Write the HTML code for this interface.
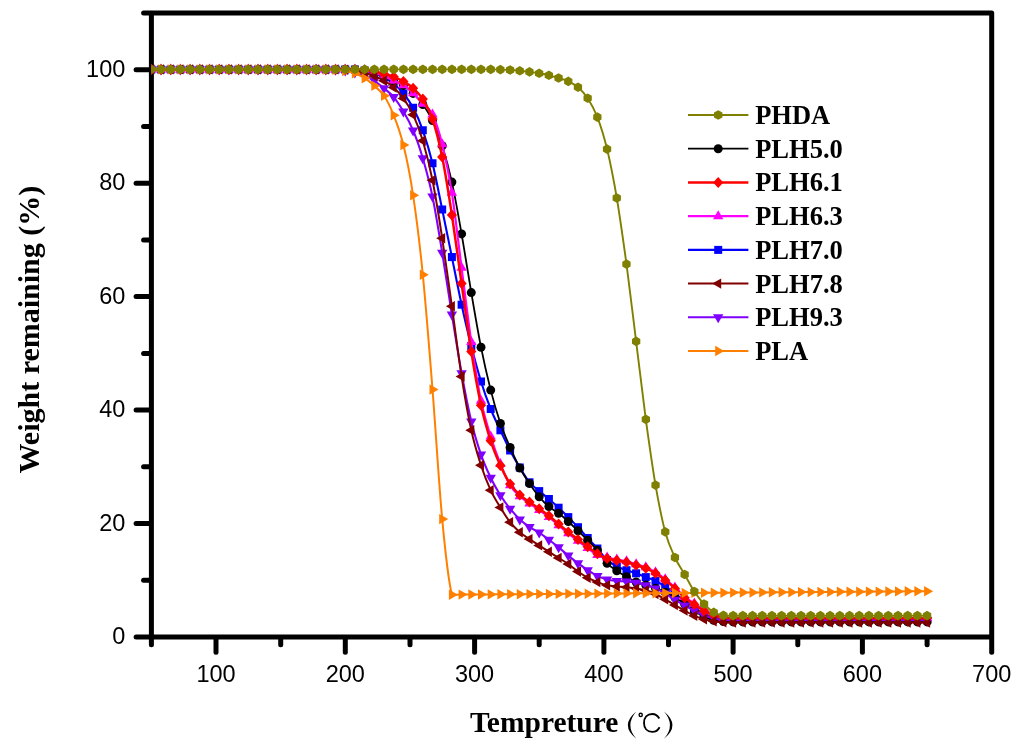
<!DOCTYPE html>
<html><head><meta charset="utf-8"><title>TGA</title>
<style>html,body{margin:0;padding:0;background:#fff;}svg{display:block;will-change:transform;}text{font-family:"Liberation Sans",sans-serif;}.t{font-family:"Liberation Serif",serif;font-weight:bold;}</style></head><body>
<svg width="1024" height="748" viewBox="0 0 1024 748">
<rect width="1024" height="748" fill="#fff"/>
<g stroke="#000" stroke-width="5" stroke-linecap="round" fill="none">
<path d="M151.4,12.9 H991.7 V637.0 H151.4 Z" stroke-linejoin="round" stroke-linecap="butt"/>
<line x1="151.4" y1="638.5" x2="151.4" y2="644.7"/>
<line x1="216" y1="638.5" x2="216" y2="652.2"/>
<line x1="280.7" y1="638.5" x2="280.7" y2="644.7"/>
<line x1="345.3" y1="638.5" x2="345.3" y2="652.2"/>
<line x1="410" y1="638.5" x2="410" y2="644.7"/>
<line x1="474.6" y1="638.5" x2="474.6" y2="652.2"/>
<line x1="539.2" y1="638.5" x2="539.2" y2="644.7"/>
<line x1="603.9" y1="638.5" x2="603.9" y2="652.2"/>
<line x1="668.5" y1="638.5" x2="668.5" y2="644.7"/>
<line x1="733.1" y1="638.5" x2="733.1" y2="652.2"/>
<line x1="797.8" y1="638.5" x2="797.8" y2="644.7"/>
<line x1="862.4" y1="638.5" x2="862.4" y2="652.2"/>
<line x1="927.1" y1="638.5" x2="927.1" y2="644.7"/>
<line x1="991.7" y1="638.5" x2="991.7" y2="652.2"/>
<line x1="149.9" y1="637" x2="136.1" y2="637"/>
<line x1="149.9" y1="580.3" x2="143.6" y2="580.3"/>
<line x1="149.9" y1="523.5" x2="136.1" y2="523.5"/>
<line x1="149.9" y1="466.8" x2="143.6" y2="466.8"/>
<line x1="149.9" y1="410.1" x2="136.1" y2="410.1"/>
<line x1="149.9" y1="353.4" x2="143.6" y2="353.4"/>
<line x1="149.9" y1="296.6" x2="136.1" y2="296.6"/>
<line x1="149.9" y1="239.9" x2="143.6" y2="239.9"/>
<line x1="149.9" y1="183.2" x2="136.1" y2="183.2"/>
<line x1="149.9" y1="126.4" x2="143.6" y2="126.4"/>
<line x1="149.9" y1="69.7" x2="136.1" y2="69.7"/>
<line x1="149.9" y1="13" x2="143.6" y2="13"/>
</g>
<defs><clipPath id="pa"><rect x="151.4" y="12.9" width="840.3000000000001" height="624.1"/></clipPath></defs>
<g clip-path="url(#pa)">
<g fill="#0000ff" stroke="none">
<path d="M151.3,69.4C152.9,69.4 157.8,69.4 161,69.4C164.2,69.4 167.5,69.4 170.7,69.4C173.9,69.4 177.2,69.4 180.4,69.4C183.6,69.4 186.9,69.4 190.1,69.4C193.3,69.4 196.6,69.4 199.8,69.4C203,69.4 206.2,69.4 209.5,69.4C212.7,69.4 215.9,69.4 219.2,69.4C222.4,69.4 225.6,69.4 228.9,69.4C232.1,69.4 235.3,69.4 238.6,69.4C241.8,69.4 245,69.4 248.3,69.4C251.5,69.4 254.7,69.4 258,69.4C261.2,69.4 264.4,69.4 267.7,69.4C270.9,69.4 274.1,69.4 277.4,69.4C280.6,69.4 283.8,69.4 287.1,69.4C290.3,69.4 293.5,69.4 296.8,69.4C300,69.4 303.2,69.4 306.5,69.4C309.7,69.4 312.9,69.4 316.1,69.4C319.4,69.4 322.6,69.4 325.8,69.4C329.1,69.4 332.3,69.4 335.5,69.4C338.8,69.4 342,69.4 345.2,69.4C348.5,69.4 351.7,69.4 354.9,69.6C358.2,69.8 361.4,70 364.6,70.6C367.9,71.2 371.1,71.8 374.3,73C377.6,74.2 380.8,75.7 384,77.5C387.3,79.3 390.5,81.1 393.7,83.8C397,86.5 400.2,89.5 403.4,93.5C406.7,97.5 409.9,101.7 413.1,107.8C416.4,113.9 419.6,121.1 422.8,130.3C426,139.6 429.3,150.1 432.5,163.3C435.7,176.5 439,193.9 442.2,209.5C445.4,225.1 448.7,241.2 451.9,257.1C455.1,273 458.4,289.9 461.6,304.7C464.8,319.5 468.1,333.2 471.3,346C474.5,358.8 477.8,371 481,381.5C484.2,392 487.5,400.9 490.7,409C493.9,417.1 497.2,423.4 500.4,430.3C503.6,437.2 506.9,444.3 510.1,450.5C513.3,456.7 516.6,462.2 519.8,467.5C523,472.8 526.3,478.4 529.5,482.3C532.7,486.2 535.9,488.3 539.2,491.1C542.4,493.9 545.6,496.2 548.9,499C552.1,501.8 555.3,504.7 558.6,507.7C561.8,510.7 565,513.9 568.3,517.1C571.5,520.4 574.7,523.7 578,527.2C581.2,530.7 584.4,534.5 587.7,538C590.9,541.5 594.1,544.8 597.4,548.5C600.6,552.2 603.8,557 607.1,560C610.3,563 613.5,564.7 616.8,566.4C620,568.1 623.2,569.1 626.5,570.2C629.7,571.4 632.9,572.1 636.1,573.3C639.4,574.4 642.6,575.8 645.8,577.1C649.1,578.4 652.3,579.3 655.5,580.9C658.8,582.5 662,584.4 665.2,586.5C668.5,588.6 671.7,591.1 674.9,593.5C678.2,595.9 681.4,598.6 684.6,601C687.9,603.4 691.1,605.9 694.3,608C697.6,610.1 700.8,612 704,613.6C707.3,615.2 710.5,616.7 713.7,617.6C717,618.5 720.2,618.9 723.4,619.2C726.7,619.5 729.9,619.5 733.1,619.5C736.4,619.5 739.6,619.5 742.8,619.5C746,619.5 749.3,619.5 752.5,619.5C755.7,619.5 759,619.5 762.2,619.5C765.4,619.5 768.7,619.5 771.9,619.5C775.1,619.5 778.4,619.5 781.6,619.5C784.8,619.5 788.1,619.5 791.3,619.5C794.5,619.5 797.8,619.5 801,619.5C804.2,619.5 807.5,619.5 810.7,619.5C813.9,619.5 817.2,619.5 820.4,619.5C823.6,619.5 826.9,619.5 830.1,619.5C833.3,619.5 836.6,619.5 839.8,619.5C843,619.5 846.3,619.5 849.5,619.5C852.7,619.5 855.9,619.5 859.2,619.5C862.4,619.5 865.6,619.5 868.9,619.5C872.1,619.5 875.3,619.5 878.6,619.5C881.8,619.5 885,619.5 888.3,619.5C891.5,619.5 894.7,619.5 898,619.5C901.2,619.5 904.4,619.5 907.7,619.5C910.9,619.5 914.1,619.5 917.4,619.5C920.6,619.5 925.4,619.5 927.1,619.5" fill="none" stroke="#0000ff" stroke-width="2.1" stroke-linejoin="round"/>
<polygon points="147.3,65.4 155.3,65.4 155.3,73.4 147.3,73.4"/>
<polygon points="157,65.4 165,65.4 165,73.4 157,73.4"/>
<polygon points="166.7,65.4 174.7,65.4 174.7,73.4 166.7,73.4"/>
<polygon points="176.4,65.4 184.4,65.4 184.4,73.4 176.4,73.4"/>
<polygon points="186.1,65.4 194.1,65.4 194.1,73.4 186.1,73.4"/>
<polygon points="195.8,65.4 203.8,65.4 203.8,73.4 195.8,73.4"/>
<polygon points="205.5,65.4 213.5,65.4 213.5,73.4 205.5,73.4"/>
<polygon points="215.2,65.4 223.2,65.4 223.2,73.4 215.2,73.4"/>
<polygon points="224.9,65.4 232.9,65.4 232.9,73.4 224.9,73.4"/>
<polygon points="234.6,65.4 242.6,65.4 242.6,73.4 234.6,73.4"/>
<polygon points="244.3,65.4 252.3,65.4 252.3,73.4 244.3,73.4"/>
<polygon points="254,65.4 262,65.4 262,73.4 254,73.4"/>
<polygon points="263.7,65.4 271.7,65.4 271.7,73.4 263.7,73.4"/>
<polygon points="273.4,65.4 281.4,65.4 281.4,73.4 273.4,73.4"/>
<polygon points="283.1,65.4 291.1,65.4 291.1,73.4 283.1,73.4"/>
<polygon points="292.8,65.4 300.8,65.4 300.8,73.4 292.8,73.4"/>
<polygon points="302.5,65.4 310.5,65.4 310.5,73.4 302.5,73.4"/>
<polygon points="312.1,65.4 320.1,65.4 320.1,73.4 312.1,73.4"/>
<polygon points="321.8,65.4 329.8,65.4 329.8,73.4 321.8,73.4"/>
<polygon points="331.5,65.4 339.5,65.4 339.5,73.4 331.5,73.4"/>
<polygon points="341.2,65.4 349.2,65.4 349.2,73.4 341.2,73.4"/>
<polygon points="350.9,65.6 358.9,65.6 358.9,73.6 350.9,73.6"/>
<polygon points="360.6,66.6 368.6,66.6 368.6,74.6 360.6,74.6"/>
<polygon points="370.3,69 378.3,69 378.3,77 370.3,77"/>
<polygon points="380,73.5 388,73.5 388,81.5 380,81.5"/>
<polygon points="389.7,79.8 397.7,79.8 397.7,87.8 389.7,87.8"/>
<polygon points="399.4,89.5 407.4,89.5 407.4,97.5 399.4,97.5"/>
<polygon points="409.1,103.8 417.1,103.8 417.1,111.8 409.1,111.8"/>
<polygon points="418.8,126.3 426.8,126.3 426.8,134.3 418.8,134.3"/>
<polygon points="428.5,159.3 436.5,159.3 436.5,167.3 428.5,167.3"/>
<polygon points="438.2,205.5 446.2,205.5 446.2,213.5 438.2,213.5"/>
<polygon points="447.9,253.1 455.9,253.1 455.9,261.1 447.9,261.1"/>
<polygon points="457.6,300.7 465.6,300.7 465.6,308.7 457.6,308.7"/>
<polygon points="467.3,342 475.3,342 475.3,350 467.3,350"/>
<polygon points="477,377.5 485,377.5 485,385.5 477,385.5"/>
<polygon points="486.7,405 494.7,405 494.7,413 486.7,413"/>
<polygon points="496.4,426.3 504.4,426.3 504.4,434.3 496.4,434.3"/>
<polygon points="506.1,446.5 514.1,446.5 514.1,454.5 506.1,454.5"/>
<polygon points="515.8,463.5 523.8,463.5 523.8,471.5 515.8,471.5"/>
<polygon points="525.5,478.3 533.5,478.3 533.5,486.3 525.5,486.3"/>
<polygon points="535.2,487.1 543.2,487.1 543.2,495.1 535.2,495.1"/>
<polygon points="544.9,495 552.9,495 552.9,503 544.9,503"/>
<polygon points="554.6,503.7 562.6,503.7 562.6,511.7 554.6,511.7"/>
<polygon points="564.3,513.1 572.3,513.1 572.3,521.1 564.3,521.1"/>
<polygon points="574,523.2 582,523.2 582,531.2 574,531.2"/>
<polygon points="583.7,534 591.7,534 591.7,542 583.7,542"/>
<polygon points="593.4,544.5 601.4,544.5 601.4,552.5 593.4,552.5"/>
<polygon points="603.1,556 611.1,556 611.1,564 603.1,564"/>
<polygon points="612.8,562.4 620.8,562.4 620.8,570.4 612.8,570.4"/>
<polygon points="622.5,566.2 630.5,566.2 630.5,574.2 622.5,574.2"/>
<polygon points="632.1,569.3 640.1,569.3 640.1,577.3 632.1,577.3"/>
<polygon points="641.8,573.1 649.8,573.1 649.8,581.1 641.8,581.1"/>
<polygon points="651.5,576.9 659.5,576.9 659.5,584.9 651.5,584.9"/>
<polygon points="661.2,582.5 669.2,582.5 669.2,590.5 661.2,590.5"/>
<polygon points="670.9,589.5 678.9,589.5 678.9,597.5 670.9,597.5"/>
<polygon points="680.6,597 688.6,597 688.6,605 680.6,605"/>
<polygon points="690.3,604 698.3,604 698.3,612 690.3,612"/>
<polygon points="700,609.6 708,609.6 708,617.6 700,617.6"/>
<polygon points="709.7,613.6 717.7,613.6 717.7,621.6 709.7,621.6"/>
<polygon points="719.4,615.2 727.4,615.2 727.4,623.2 719.4,623.2"/>
<polygon points="729.1,615.5 737.1,615.5 737.1,623.5 729.1,623.5"/>
<polygon points="738.8,615.5 746.8,615.5 746.8,623.5 738.8,623.5"/>
<polygon points="748.5,615.5 756.5,615.5 756.5,623.5 748.5,623.5"/>
<polygon points="758.2,615.5 766.2,615.5 766.2,623.5 758.2,623.5"/>
<polygon points="767.9,615.5 775.9,615.5 775.9,623.5 767.9,623.5"/>
<polygon points="777.6,615.5 785.6,615.5 785.6,623.5 777.6,623.5"/>
<polygon points="787.3,615.5 795.3,615.5 795.3,623.5 787.3,623.5"/>
<polygon points="797,615.5 805,615.5 805,623.5 797,623.5"/>
<polygon points="806.7,615.5 814.7,615.5 814.7,623.5 806.7,623.5"/>
<polygon points="816.4,615.5 824.4,615.5 824.4,623.5 816.4,623.5"/>
<polygon points="826.1,615.5 834.1,615.5 834.1,623.5 826.1,623.5"/>
<polygon points="835.8,615.5 843.8,615.5 843.8,623.5 835.8,623.5"/>
<polygon points="845.5,615.5 853.5,615.5 853.5,623.5 845.5,623.5"/>
<polygon points="855.2,615.5 863.2,615.5 863.2,623.5 855.2,623.5"/>
<polygon points="864.9,615.5 872.9,615.5 872.9,623.5 864.9,623.5"/>
<polygon points="874.6,615.5 882.6,615.5 882.6,623.5 874.6,623.5"/>
<polygon points="884.3,615.5 892.3,615.5 892.3,623.5 884.3,623.5"/>
<polygon points="894,615.5 902,615.5 902,623.5 894,623.5"/>
<polygon points="903.7,615.5 911.7,615.5 911.7,623.5 903.7,623.5"/>
<polygon points="913.4,615.5 921.4,615.5 921.4,623.5 913.4,623.5"/>
<polygon points="923.1,615.5 931.1,615.5 931.1,623.5 923.1,623.5"/>
</g>
<g fill="#000000" stroke="none">
<path d="M151.3,69.4C152.9,69.4 157.8,69.4 161,69.4C164.2,69.4 167.5,69.4 170.7,69.4C173.9,69.4 177.2,69.4 180.4,69.4C183.6,69.4 186.9,69.4 190.1,69.4C193.3,69.4 196.6,69.4 199.8,69.4C203,69.4 206.2,69.4 209.5,69.4C212.7,69.4 215.9,69.4 219.2,69.4C222.4,69.4 225.6,69.4 228.9,69.4C232.1,69.4 235.3,69.4 238.6,69.4C241.8,69.4 245,69.4 248.3,69.4C251.5,69.4 254.7,69.4 258,69.4C261.2,69.4 264.4,69.4 267.7,69.4C270.9,69.4 274.1,69.4 277.4,69.4C280.6,69.4 283.8,69.4 287.1,69.4C290.3,69.4 293.5,69.4 296.8,69.4C300,69.4 303.2,69.4 306.5,69.4C309.7,69.4 312.9,69.4 316.1,69.4C319.4,69.4 322.6,69.4 325.8,69.4C329.1,69.4 332.3,69.4 335.5,69.4C338.8,69.4 342,69.4 345.2,69.4C348.5,69.4 351.7,69.4 354.9,69.6C358.2,69.8 361.4,69.9 364.6,70.4C367.9,70.9 371.1,71.6 374.3,72.6C377.6,73.6 380.8,75 384,76.4C387.3,77.8 390.5,79.7 393.7,81.2C397,82.7 400.2,83.6 403.4,85.6C406.7,87.6 409.9,90.2 413.1,93.4C416.4,96.6 419.6,100 422.8,104.5C426,109 429.3,113.7 432.5,120.6C435.7,127.5 439,135.4 442.2,145.7C445.4,155.9 448.7,167.4 451.9,182.1C455.1,196.8 458.4,215.5 461.6,233.9C464.8,252.3 468.1,273.7 471.3,292.6C474.5,311.5 477.8,330.9 481,347.2C484.2,363.4 487.5,377.4 490.7,390.1C493.9,402.8 497.2,413.8 500.4,423.4C503.6,432.9 506.9,440 510.1,447.4C513.3,454.8 516.6,462 519.8,468C523,474 526.3,478.7 529.5,483.5C532.7,488.3 535.9,493 539.2,496.8C542.4,500.6 545.6,503.8 548.9,506.5C552.1,509.2 555.3,510.8 558.6,513.3C561.8,515.8 565,518.6 568.3,521.5C571.5,524.4 574.7,527.7 578,530.8C581.2,533.9 584.4,537 587.7,540.2C590.9,543.5 594.1,546.4 597.4,550.3C600.6,554.1 603.8,559.9 607.1,563.3C610.3,566.7 613.5,568.5 616.8,570.7C620,573 623.2,574.9 626.5,576.8C629.7,578.7 632.9,580.6 636.1,582C639.4,583.4 642.6,584 645.8,585C649.1,586 652.3,587 655.5,588.2C658.8,589.4 662,590.6 665.2,592.2C668.5,593.8 671.7,595.6 674.9,597.6C678.2,599.6 681.4,601.8 684.6,604C687.9,606.2 691.1,608.9 694.3,611C697.6,613.1 700.8,615.1 704,616.6C707.3,618.1 710.5,619.4 713.7,620.2C717,621 720.2,621.2 723.4,621.5C726.7,621.8 729.9,621.8 733.1,621.9C736.4,621.9 739.6,621.9 742.8,621.9C746,621.9 749.3,621.9 752.5,621.9C755.7,621.9 759,621.9 762.2,621.9C765.4,621.9 768.7,621.9 771.9,621.9C775.1,621.9 778.4,621.9 781.6,621.9C784.8,621.9 788.1,621.9 791.3,621.9C794.5,621.9 797.8,621.9 801,621.9C804.2,621.9 807.5,621.9 810.7,621.9C813.9,621.9 817.2,621.9 820.4,621.9C823.6,621.9 826.9,621.9 830.1,621.9C833.3,621.9 836.6,621.9 839.8,621.9C843,621.9 846.3,621.9 849.5,621.9C852.7,621.9 855.9,621.9 859.2,621.9C862.4,621.9 865.6,621.9 868.9,621.9C872.1,621.9 875.3,621.9 878.6,621.9C881.8,621.9 885,621.9 888.3,621.9C891.5,621.9 894.7,621.9 898,621.9C901.2,621.9 904.4,621.9 907.7,621.9C910.9,621.9 914.1,621.9 917.4,621.9C920.6,621.9 925.4,621.9 927.1,621.9" fill="none" stroke="#000000" stroke-width="1.8" stroke-linejoin="round"/>
<circle cx="151.3" cy="69.4" r="4.5"/>
<circle cx="161" cy="69.4" r="4.5"/>
<circle cx="170.7" cy="69.4" r="4.5"/>
<circle cx="180.4" cy="69.4" r="4.5"/>
<circle cx="190.1" cy="69.4" r="4.5"/>
<circle cx="199.8" cy="69.4" r="4.5"/>
<circle cx="209.5" cy="69.4" r="4.5"/>
<circle cx="219.2" cy="69.4" r="4.5"/>
<circle cx="228.9" cy="69.4" r="4.5"/>
<circle cx="238.6" cy="69.4" r="4.5"/>
<circle cx="248.3" cy="69.4" r="4.5"/>
<circle cx="258" cy="69.4" r="4.5"/>
<circle cx="267.7" cy="69.4" r="4.5"/>
<circle cx="277.4" cy="69.4" r="4.5"/>
<circle cx="287.1" cy="69.4" r="4.5"/>
<circle cx="296.8" cy="69.4" r="4.5"/>
<circle cx="306.5" cy="69.4" r="4.5"/>
<circle cx="316.1" cy="69.4" r="4.5"/>
<circle cx="325.8" cy="69.4" r="4.5"/>
<circle cx="335.5" cy="69.4" r="4.5"/>
<circle cx="345.2" cy="69.4" r="4.5"/>
<circle cx="354.9" cy="69.6" r="4.5"/>
<circle cx="364.6" cy="70.4" r="4.5"/>
<circle cx="374.3" cy="72.6" r="4.5"/>
<circle cx="384" cy="76.4" r="4.5"/>
<circle cx="393.7" cy="81.2" r="4.5"/>
<circle cx="403.4" cy="85.6" r="4.5"/>
<circle cx="413.1" cy="93.4" r="4.5"/>
<circle cx="422.8" cy="104.5" r="4.5"/>
<circle cx="432.5" cy="120.6" r="4.5"/>
<circle cx="442.2" cy="145.7" r="4.5"/>
<circle cx="451.9" cy="182.1" r="4.5"/>
<circle cx="461.6" cy="233.9" r="4.5"/>
<circle cx="471.3" cy="292.6" r="4.5"/>
<circle cx="481" cy="347.2" r="4.5"/>
<circle cx="490.7" cy="390.1" r="4.5"/>
<circle cx="500.4" cy="423.4" r="4.5"/>
<circle cx="510.1" cy="447.4" r="4.5"/>
<circle cx="519.8" cy="468" r="4.5"/>
<circle cx="529.5" cy="483.5" r="4.5"/>
<circle cx="539.2" cy="496.8" r="4.5"/>
<circle cx="548.9" cy="506.5" r="4.5"/>
<circle cx="558.6" cy="513.3" r="4.5"/>
<circle cx="568.3" cy="521.5" r="4.5"/>
<circle cx="578" cy="530.8" r="4.5"/>
<circle cx="587.7" cy="540.2" r="4.5"/>
<circle cx="597.4" cy="550.3" r="4.5"/>
<circle cx="607.1" cy="563.3" r="4.5"/>
<circle cx="616.8" cy="570.7" r="4.5"/>
<circle cx="626.5" cy="576.8" r="4.5"/>
<circle cx="636.1" cy="582" r="4.5"/>
<circle cx="645.8" cy="585" r="4.5"/>
<circle cx="655.5" cy="588.2" r="4.5"/>
<circle cx="665.2" cy="592.2" r="4.5"/>
<circle cx="674.9" cy="597.6" r="4.5"/>
<circle cx="684.6" cy="604" r="4.5"/>
<circle cx="694.3" cy="611" r="4.5"/>
<circle cx="704" cy="616.6" r="4.5"/>
<circle cx="713.7" cy="620.2" r="4.5"/>
<circle cx="723.4" cy="621.5" r="4.5"/>
<circle cx="733.1" cy="621.9" r="4.5"/>
<circle cx="742.8" cy="621.9" r="4.5"/>
<circle cx="752.5" cy="621.9" r="4.5"/>
<circle cx="762.2" cy="621.9" r="4.5"/>
<circle cx="771.9" cy="621.9" r="4.5"/>
<circle cx="781.6" cy="621.9" r="4.5"/>
<circle cx="791.3" cy="621.9" r="4.5"/>
<circle cx="801" cy="621.9" r="4.5"/>
<circle cx="810.7" cy="621.9" r="4.5"/>
<circle cx="820.4" cy="621.9" r="4.5"/>
<circle cx="830.1" cy="621.9" r="4.5"/>
<circle cx="839.8" cy="621.9" r="4.5"/>
<circle cx="849.5" cy="621.9" r="4.5"/>
<circle cx="859.2" cy="621.9" r="4.5"/>
<circle cx="868.9" cy="621.9" r="4.5"/>
<circle cx="878.6" cy="621.9" r="4.5"/>
<circle cx="888.3" cy="621.9" r="4.5"/>
<circle cx="898" cy="621.9" r="4.5"/>
<circle cx="907.7" cy="621.9" r="4.5"/>
<circle cx="917.4" cy="621.9" r="4.5"/>
<circle cx="927.1" cy="621.9" r="4.5"/>
</g>
<g fill="#ff00ff" stroke="none">
<path d="M151.3,69.4C152.9,69.4 157.8,69.4 161,69.4C164.2,69.4 167.5,69.4 170.7,69.4C173.9,69.4 177.2,69.4 180.4,69.4C183.6,69.4 186.9,69.4 190.1,69.4C193.3,69.4 196.6,69.4 199.8,69.4C203,69.4 206.2,69.4 209.5,69.4C212.7,69.4 215.9,69.4 219.2,69.4C222.4,69.4 225.6,69.4 228.9,69.4C232.1,69.4 235.3,69.4 238.6,69.4C241.8,69.4 245,69.4 248.3,69.4C251.5,69.4 254.7,69.4 258,69.4C261.2,69.4 264.4,69.4 267.7,69.4C270.9,69.4 274.1,69.4 277.4,69.4C280.6,69.4 283.8,69.4 287.1,69.4C290.3,69.4 293.5,69.4 296.8,69.4C300,69.4 303.2,69.4 306.5,69.4C309.7,69.4 312.9,69.4 316.1,69.4C319.4,69.4 322.6,69.4 325.8,69.4C329.1,69.4 332.3,69.4 335.5,69.4C338.8,69.4 342,69.4 345.2,69.4C348.5,69.4 351.7,69.4 354.9,69.6C358.2,69.8 361.4,69.9 364.6,70.3C367.9,70.7 371.1,71.2 374.3,72.2C377.6,73.2 380.8,74.6 384,76C387.3,77.4 390.5,79.3 393.7,80.8C397,82.3 400.2,83.1 403.4,85.2C406.7,87.3 409.9,90.1 413.1,93.2C416.4,96.3 419.6,100.2 422.8,103.7C426,107.2 429.3,107.7 432.5,114.5C435.7,121.3 439,131.2 442.2,144.3C445.4,157.4 448.7,172.2 451.9,192.8C455.1,213.4 458.4,242.9 461.6,267.8C464.8,292.7 468.1,319.9 471.3,342.1C474.5,364.3 477.8,385.1 481,400.8C484.2,416.5 487.5,426 490.7,436.5C493.9,447 497.2,455.9 500.4,464C503.6,472.1 506.9,479.8 510.1,485.2C513.3,490.6 516.6,493.2 519.8,496.2C523,499.2 526.3,501.1 529.5,503.4C532.7,505.7 535.9,507.7 539.2,510C542.4,512.3 545.6,514.5 548.9,517C552.1,519.5 555.3,522.6 558.6,525.3C561.8,528 565,530.7 568.3,533.3C571.5,535.9 574.7,538.3 578,540.8C581.2,543.3 584.4,545.7 587.7,548.1C590.9,550.5 594.1,553.4 597.4,555C600.6,556.6 603.8,556.8 607.1,557.5C610.3,558.2 613.5,558.9 616.8,559.5C620,560.1 623.2,560.5 626.5,561.3C629.7,562.1 632.9,563.2 636.1,564.2C639.4,565.2 642.6,565.9 645.8,567.3C649.1,568.6 652.3,570.3 655.5,572.3C658.8,574.3 662,576.8 665.2,579.3C668.5,581.8 671.7,584.5 674.9,587.4C678.2,590.3 681.4,594.1 684.6,596.8C687.9,599.5 691.1,601.4 694.3,603.6C697.6,605.8 700.8,608.1 704,609.9C707.3,611.7 710.5,612.9 713.7,614.2C717,615.6 720.2,617.4 723.4,618C726.7,618 729.9,618 733.1,618C736.4,618 739.6,618 742.8,618C746,618 749.3,618 752.5,618C755.7,618 759,618 762.2,618C765.4,618 768.7,618 771.9,618C775.1,618 778.4,618 781.6,618C784.8,618 788.1,618 791.3,618C794.5,618 797.8,618 801,618C804.2,618 807.5,618 810.7,618C813.9,618 817.2,618 820.4,618C823.6,618 826.9,618 830.1,618C833.3,618 836.6,618 839.8,618C843,618 846.3,618 849.5,618C852.7,618 855.9,618 859.2,618C862.4,618 865.6,618 868.9,618C872.1,618 875.3,618 878.6,618C881.8,618 885,618 888.3,618C891.5,618 894.7,618 898,618C901.2,618 904.4,618 907.7,618C910.9,618 914.1,618 917.4,618C920.6,618 925.4,618 927.1,618" fill="none" stroke="#ff00ff" stroke-width="2.2" stroke-linejoin="round"/>
<polygon points="151.3,63.4 156.5,72.4 146.1,72.4"/>
<polygon points="161,63.4 166.2,72.4 155.8,72.4"/>
<polygon points="170.7,63.4 175.9,72.4 165.5,72.4"/>
<polygon points="180.4,63.4 185.6,72.4 175.2,72.4"/>
<polygon points="190.1,63.4 195.3,72.4 184.9,72.4"/>
<polygon points="199.8,63.4 205,72.4 194.6,72.4"/>
<polygon points="209.5,63.4 214.7,72.4 204.3,72.4"/>
<polygon points="219.2,63.4 224.4,72.4 214,72.4"/>
<polygon points="228.9,63.4 234.1,72.4 223.7,72.4"/>
<polygon points="238.6,63.4 243.8,72.4 233.4,72.4"/>
<polygon points="248.3,63.4 253.5,72.4 243.1,72.4"/>
<polygon points="258,63.4 263.2,72.4 252.8,72.4"/>
<polygon points="267.7,63.4 272.9,72.4 262.5,72.4"/>
<polygon points="277.4,63.4 282.6,72.4 272.2,72.4"/>
<polygon points="287.1,63.4 292.3,72.4 281.9,72.4"/>
<polygon points="296.8,63.4 302,72.4 291.6,72.4"/>
<polygon points="306.5,63.4 311.7,72.4 301.3,72.4"/>
<polygon points="316.1,63.4 321.3,72.4 310.9,72.4"/>
<polygon points="325.8,63.4 331,72.4 320.6,72.4"/>
<polygon points="335.5,63.4 340.7,72.4 330.3,72.4"/>
<polygon points="345.2,63.4 350.4,72.4 340,72.4"/>
<polygon points="354.9,63.6 360.1,72.6 349.7,72.6"/>
<polygon points="364.6,64.3 369.8,73.3 359.4,73.3"/>
<polygon points="374.3,66.2 379.5,75.2 369.1,75.2"/>
<polygon points="384,70 389.2,79 378.8,79"/>
<polygon points="393.7,74.8 398.9,83.8 388.5,83.8"/>
<polygon points="403.4,79.2 408.6,88.2 398.2,88.2"/>
<polygon points="413.1,87.2 418.3,96.2 407.9,96.2"/>
<polygon points="422.8,97.7 428,106.7 417.6,106.7"/>
<polygon points="432.5,108.5 437.7,117.5 427.3,117.5"/>
<polygon points="442.2,138.3 447.4,147.3 437,147.3"/>
<polygon points="451.9,186.8 457.1,195.8 446.7,195.8"/>
<polygon points="461.6,261.8 466.8,270.8 456.4,270.8"/>
<polygon points="471.3,336.1 476.5,345.1 466.1,345.1"/>
<polygon points="481,394.8 486.2,403.8 475.8,403.8"/>
<polygon points="490.7,430.5 495.9,439.5 485.5,439.5"/>
<polygon points="500.4,458 505.6,467 495.2,467"/>
<polygon points="510.1,479.2 515.3,488.2 504.9,488.2"/>
<polygon points="519.8,490.2 525,499.2 514.6,499.2"/>
<polygon points="529.5,497.4 534.7,506.4 524.3,506.4"/>
<polygon points="539.2,504 544.4,513 534,513"/>
<polygon points="548.9,511 554.1,520 543.7,520"/>
<polygon points="558.6,519.3 563.8,528.3 553.4,528.3"/>
<polygon points="568.3,527.3 573.5,536.3 563.1,536.3"/>
<polygon points="578,534.8 583.2,543.8 572.8,543.8"/>
<polygon points="587.7,542.1 592.9,551.1 582.5,551.1"/>
<polygon points="597.4,549 602.6,558 592.2,558"/>
<polygon points="607.1,551.5 612.3,560.5 601.9,560.5"/>
<polygon points="616.8,553.5 622,562.5 611.6,562.5"/>
<polygon points="626.5,555.3 631.7,564.3 621.3,564.3"/>
<polygon points="636.1,558.2 641.4,567.2 630.9,567.2"/>
<polygon points="645.8,561.3 651,570.3 640.6,570.3"/>
<polygon points="655.5,566.3 660.7,575.3 650.3,575.3"/>
<polygon points="665.2,573.3 670.4,582.3 660,582.3"/>
<polygon points="674.9,581.4 680.1,590.4 669.7,590.4"/>
<polygon points="684.6,590.8 689.8,599.8 679.4,599.8"/>
<polygon points="694.3,597.6 699.5,606.6 689.1,606.6"/>
<polygon points="704,603.9 709.2,612.9 698.8,612.9"/>
<polygon points="713.7,608.2 718.9,617.2 708.5,617.2"/>
<polygon points="723.4,612 728.6,621 718.2,621"/>
<polygon points="733.1,612 738.3,621 727.9,621"/>
<polygon points="742.8,612 748,621 737.6,621"/>
<polygon points="752.5,612 757.7,621 747.3,621"/>
<polygon points="762.2,612 767.4,621 757,621"/>
<polygon points="771.9,612 777.1,621 766.7,621"/>
<polygon points="781.6,612 786.8,621 776.4,621"/>
<polygon points="791.3,612 796.5,621 786.1,621"/>
<polygon points="801,612 806.2,621 795.8,621"/>
<polygon points="810.7,612 815.9,621 805.5,621"/>
<polygon points="820.4,612 825.6,621 815.2,621"/>
<polygon points="830.1,612 835.3,621 824.9,621"/>
<polygon points="839.8,612 845,621 834.6,621"/>
<polygon points="849.5,612 854.7,621 844.3,621"/>
<polygon points="859.2,612 864.4,621 854,621"/>
<polygon points="868.9,612 874.1,621 863.7,621"/>
<polygon points="878.6,612 883.8,621 873.4,621"/>
<polygon points="888.3,612 893.5,621 883.1,621"/>
<polygon points="898,612 903.2,621 892.8,621"/>
<polygon points="907.7,612 912.9,621 902.5,621"/>
<polygon points="917.4,612 922.6,621 912.2,621"/>
<polygon points="927.1,612 932.3,621 921.9,621"/>
</g>
<g fill="#8000ff" stroke="none">
<path d="M151.3,69.4C152.9,69.4 157.8,69.4 161,69.4C164.2,69.4 167.5,69.4 170.7,69.4C173.9,69.4 177.2,69.4 180.4,69.4C183.6,69.4 186.9,69.4 190.1,69.4C193.3,69.4 196.6,69.4 199.8,69.4C203,69.4 206.2,69.4 209.5,69.4C212.7,69.4 215.9,69.4 219.2,69.4C222.4,69.4 225.6,69.4 228.9,69.4C232.1,69.4 235.3,69.4 238.6,69.4C241.8,69.4 245,69.4 248.3,69.4C251.5,69.4 254.7,69.4 258,69.4C261.2,69.4 264.4,69.4 267.7,69.4C270.9,69.4 274.1,69.4 277.4,69.4C280.6,69.4 283.8,69.4 287.1,69.4C290.3,69.4 293.5,69.4 296.8,69.4C300,69.4 303.2,69.4 306.5,69.4C309.7,69.4 312.9,69.4 316.1,69.4C319.4,69.4 322.6,69.4 325.8,69.5C329.1,69.6 332.3,69.6 335.5,69.8C338.8,70 342,70.1 345.2,70.6C348.5,71.1 351.7,71.7 354.9,72.6C358.2,73.5 361.4,74.4 364.6,75.8C367.9,77.2 371.1,78.7 374.3,80.8C377.6,82.9 380.8,85.6 384,88.3C387.3,91 390.5,93.2 393.7,97.1C397,101 400.2,106 403.4,111.5C406.7,117 409.9,122.6 413.1,130.4C416.4,138.2 419.6,147.3 422.8,158.3C426,169.3 429.3,180.9 432.5,196.6C435.7,212.3 439,233 442.2,252.7C445.4,272.3 448.7,294.4 451.9,314.5C455.1,334.6 458.4,355.5 461.6,373.3C464.8,391.1 468.1,407.9 471.3,421.5C474.5,435.1 477.8,445.2 481,454.6C484.2,464 487.5,470.9 490.7,477.7C493.9,484.5 497.2,490 500.4,495.2C503.6,500.4 506.9,504.7 510.1,508.7C513.3,512.7 516.6,516.4 519.8,519.4C523,522.4 526.3,524.7 529.5,526.9C532.7,529.1 535.9,530.5 539.2,532.6C542.4,534.7 545.6,537.2 548.9,539.7C552.1,542.2 555.3,544.6 558.6,547.3C561.8,549.9 565,553 568.3,555.6C571.5,558.2 574.7,560.8 578,563.2C581.2,565.6 584.4,568.1 587.7,570.2C590.9,572.3 594.1,574.3 597.4,575.9C600.6,577.5 603.8,578.8 607.1,579.6C610.3,580.4 613.5,580.6 616.8,580.9C620,581.2 623.2,581.2 626.5,581.5C629.7,581.8 632.9,582.2 636.1,582.8C639.4,583.4 642.6,584.4 645.8,585.3C649.1,586.2 652.3,587 655.5,588.4C658.8,589.8 662,591.6 665.2,593.5C668.5,595.4 671.7,597.7 674.9,599.7C678.2,601.7 681.4,603.5 684.6,605.4C687.9,607.3 691.1,609.2 694.3,610.9C697.6,612.5 700.8,614.1 704,615.3C707.3,616.5 710.5,617.5 713.7,618.2C717,619 720.2,619.5 723.4,619.8C726.7,620.1 729.9,620.1 733.1,620.2C736.4,620.2 739.6,620.2 742.8,620.2C746,620.2 749.3,620.2 752.5,620.2C755.7,620.2 759,620.2 762.2,620.2C765.4,620.2 768.7,620.2 771.9,620.2C775.1,620.2 778.4,620.2 781.6,620.2C784.8,620.2 788.1,620.2 791.3,620.2C794.5,620.2 797.8,620.2 801,620.2C804.2,620.2 807.5,620.2 810.7,620.2C813.9,620.2 817.2,620.2 820.4,620.2C823.6,620.2 826.9,620.2 830.1,620.2C833.3,620.2 836.6,620.2 839.8,620.2C843,620.2 846.3,620.2 849.5,620.2C852.7,620.2 855.9,620.2 859.2,620.2C862.4,620.2 865.6,620.2 868.9,620.2C872.1,620.2 875.3,620.2 878.6,620.2C881.8,620.2 885,620.2 888.3,620.2C891.5,620.2 894.7,620.2 898,620.2C901.2,620.2 904.4,620.2 907.7,620.2C910.9,620.2 914.1,620.2 917.4,620.2C920.6,620.2 925.4,620.2 927.1,620.2" fill="none" stroke="#8000ff" stroke-width="2.1" stroke-linejoin="round"/>
<polygon points="151.3,75.4 156.5,66.4 146.1,66.4"/>
<polygon points="161,75.4 166.2,66.4 155.8,66.4"/>
<polygon points="170.7,75.4 175.9,66.4 165.5,66.4"/>
<polygon points="180.4,75.4 185.6,66.4 175.2,66.4"/>
<polygon points="190.1,75.4 195.3,66.4 184.9,66.4"/>
<polygon points="199.8,75.4 205,66.4 194.6,66.4"/>
<polygon points="209.5,75.4 214.7,66.4 204.3,66.4"/>
<polygon points="219.2,75.4 224.4,66.4 214,66.4"/>
<polygon points="228.9,75.4 234.1,66.4 223.7,66.4"/>
<polygon points="238.6,75.4 243.8,66.4 233.4,66.4"/>
<polygon points="248.3,75.4 253.5,66.4 243.1,66.4"/>
<polygon points="258,75.4 263.2,66.4 252.8,66.4"/>
<polygon points="267.7,75.4 272.9,66.4 262.5,66.4"/>
<polygon points="277.4,75.4 282.6,66.4 272.2,66.4"/>
<polygon points="287.1,75.4 292.3,66.4 281.9,66.4"/>
<polygon points="296.8,75.4 302,66.4 291.6,66.4"/>
<polygon points="306.5,75.4 311.7,66.4 301.3,66.4"/>
<polygon points="316.1,75.4 321.3,66.4 310.9,66.4"/>
<polygon points="325.8,75.5 331,66.5 320.6,66.5"/>
<polygon points="335.5,75.8 340.7,66.8 330.3,66.8"/>
<polygon points="345.2,76.6 350.4,67.6 340,67.6"/>
<polygon points="354.9,78.6 360.1,69.6 349.7,69.6"/>
<polygon points="364.6,81.8 369.8,72.8 359.4,72.8"/>
<polygon points="374.3,86.8 379.5,77.8 369.1,77.8"/>
<polygon points="384,94.3 389.2,85.3 378.8,85.3"/>
<polygon points="393.7,103.1 398.9,94.1 388.5,94.1"/>
<polygon points="403.4,117.5 408.6,108.5 398.2,108.5"/>
<polygon points="413.1,136.4 418.3,127.4 407.9,127.4"/>
<polygon points="422.8,164.3 428,155.3 417.6,155.3"/>
<polygon points="432.5,202.6 437.7,193.6 427.3,193.6"/>
<polygon points="442.2,258.7 447.4,249.7 437,249.7"/>
<polygon points="451.9,320.5 457.1,311.5 446.7,311.5"/>
<polygon points="461.6,379.3 466.8,370.3 456.4,370.3"/>
<polygon points="471.3,427.5 476.5,418.5 466.1,418.5"/>
<polygon points="481,460.6 486.2,451.6 475.8,451.6"/>
<polygon points="490.7,483.7 495.9,474.7 485.5,474.7"/>
<polygon points="500.4,501.2 505.6,492.2 495.2,492.2"/>
<polygon points="510.1,514.7 515.3,505.7 504.9,505.7"/>
<polygon points="519.8,525.4 525,516.4 514.6,516.4"/>
<polygon points="529.5,532.9 534.7,523.9 524.3,523.9"/>
<polygon points="539.2,538.6 544.4,529.6 534,529.6"/>
<polygon points="548.9,545.7 554.1,536.7 543.7,536.7"/>
<polygon points="558.6,553.3 563.8,544.3 553.4,544.3"/>
<polygon points="568.3,561.6 573.5,552.6 563.1,552.6"/>
<polygon points="578,569.2 583.2,560.2 572.8,560.2"/>
<polygon points="587.7,576.2 592.9,567.2 582.5,567.2"/>
<polygon points="597.4,581.9 602.6,572.9 592.2,572.9"/>
<polygon points="607.1,585.6 612.3,576.6 601.9,576.6"/>
<polygon points="616.8,586.9 622,577.9 611.6,577.9"/>
<polygon points="626.5,587.5 631.7,578.5 621.3,578.5"/>
<polygon points="636.1,588.8 641.4,579.8 630.9,579.8"/>
<polygon points="645.8,591.3 651,582.3 640.6,582.3"/>
<polygon points="655.5,594.4 660.7,585.4 650.3,585.4"/>
<polygon points="665.2,599.5 670.4,590.5 660,590.5"/>
<polygon points="674.9,605.7 680.1,596.7 669.7,596.7"/>
<polygon points="684.6,611.4 689.8,602.4 679.4,602.4"/>
<polygon points="694.3,616.9 699.5,607.9 689.1,607.9"/>
<polygon points="704,621.3 709.2,612.3 698.8,612.3"/>
<polygon points="713.7,624.2 718.9,615.2 708.5,615.2"/>
<polygon points="723.4,625.8 728.6,616.8 718.2,616.8"/>
<polygon points="733.1,626.2 738.3,617.2 727.9,617.2"/>
<polygon points="742.8,626.2 748,617.2 737.6,617.2"/>
<polygon points="752.5,626.2 757.7,617.2 747.3,617.2"/>
<polygon points="762.2,626.2 767.4,617.2 757,617.2"/>
<polygon points="771.9,626.2 777.1,617.2 766.7,617.2"/>
<polygon points="781.6,626.2 786.8,617.2 776.4,617.2"/>
<polygon points="791.3,626.2 796.5,617.2 786.1,617.2"/>
<polygon points="801,626.2 806.2,617.2 795.8,617.2"/>
<polygon points="810.7,626.2 815.9,617.2 805.5,617.2"/>
<polygon points="820.4,626.2 825.6,617.2 815.2,617.2"/>
<polygon points="830.1,626.2 835.3,617.2 824.9,617.2"/>
<polygon points="839.8,626.2 845,617.2 834.6,617.2"/>
<polygon points="849.5,626.2 854.7,617.2 844.3,617.2"/>
<polygon points="859.2,626.2 864.4,617.2 854,617.2"/>
<polygon points="868.9,626.2 874.1,617.2 863.7,617.2"/>
<polygon points="878.6,626.2 883.8,617.2 873.4,617.2"/>
<polygon points="888.3,626.2 893.5,617.2 883.1,617.2"/>
<polygon points="898,626.2 903.2,617.2 892.8,617.2"/>
<polygon points="907.7,626.2 912.9,617.2 902.5,617.2"/>
<polygon points="917.4,626.2 922.6,617.2 912.2,617.2"/>
<polygon points="927.1,626.2 932.3,617.2 921.9,617.2"/>
</g>
<g fill="#ff0000" stroke="none">
<path d="M151.3,69.4C152.9,69.4 157.8,69.4 161,69.4C164.2,69.4 167.5,69.4 170.7,69.4C173.9,69.4 177.2,69.4 180.4,69.4C183.6,69.4 186.9,69.4 190.1,69.4C193.3,69.4 196.6,69.4 199.8,69.4C203,69.4 206.2,69.4 209.5,69.4C212.7,69.4 215.9,69.4 219.2,69.4C222.4,69.4 225.6,69.4 228.9,69.4C232.1,69.4 235.3,69.4 238.6,69.4C241.8,69.4 245,69.4 248.3,69.4C251.5,69.4 254.7,69.4 258,69.4C261.2,69.4 264.4,69.4 267.7,69.4C270.9,69.4 274.1,69.4 277.4,69.4C280.6,69.4 283.8,69.4 287.1,69.4C290.3,69.4 293.5,69.4 296.8,69.4C300,69.4 303.2,69.4 306.5,69.4C309.7,69.4 312.9,69.4 316.1,69.4C319.4,69.4 322.6,69.4 325.8,69.4C329.1,69.4 332.3,69.4 335.5,69.4C338.8,69.4 342,69.4 345.2,69.4C348.5,69.4 351.7,69.4 354.9,69.5C358.2,69.6 361.4,69.6 364.6,69.9C367.9,70.2 371.1,70.5 374.3,71.2C377.6,71.9 380.8,73 384,73.9C387.3,74.8 390.5,75.5 393.7,76.8C397,78 400.2,79.5 403.4,81.4C406.7,83.3 409.9,85.2 413.1,88.2C416.4,91.2 419.6,94 422.8,99.1C426,104.2 429.3,109.3 432.5,119C435.7,128.7 439,141 442.2,157C445.4,173 448.7,193.9 451.9,215C455.1,236.1 458.4,260.7 461.6,283.5C464.8,306.3 468.1,331.3 471.3,351.6C474.5,371.9 477.8,390.3 481,405.2C484.2,420.1 487.5,430.8 490.7,440.8C493.9,450.9 497.2,458.3 500.4,465.5C503.6,472.7 506.9,479 510.1,483.9C513.3,488.8 516.6,491.9 519.8,494.9C523,497.9 526.3,499.8 529.5,502.1C532.7,504.4 535.9,506.4 539.2,508.7C542.4,511 545.6,513.2 548.9,515.7C552.1,518.2 555.3,521.3 558.6,524C561.8,526.7 565,529.4 568.3,532C571.5,534.6 574.7,537 578,539.5C581.2,542 584.4,544.4 587.7,546.8C590.9,549.2 594.1,551.8 597.4,553.7C600.6,555.7 603.8,557.4 607.1,558.5C610.3,559.6 613.5,559.9 616.8,560.5C620,561.1 623.2,561.5 626.5,562.3C629.7,563.1 632.9,564.2 636.1,565.2C639.4,566.2 642.6,566.9 645.8,568.3C649.1,569.6 652.3,571.3 655.5,573.3C658.8,575.3 662,577.8 665.2,580.3C668.5,582.8 671.7,585.5 674.9,588.4C678.2,591.3 681.4,595.1 684.6,597.8C687.9,600.5 691.1,602.4 694.3,604.6C697.6,606.8 700.8,609.1 704,610.9C707.3,612.7 710.5,614.1 713.7,615.2C717,616.3 720.2,616.9 723.4,617.4C726.7,617.9 729.9,617.9 733.1,618C736.4,618 739.6,618 742.8,618C746,618 749.3,618 752.5,618C755.7,618 759,618 762.2,618C765.4,618 768.7,618 771.9,618C775.1,618 778.4,618 781.6,618C784.8,618 788.1,618 791.3,618C794.5,618 797.8,618 801,618C804.2,618 807.5,618 810.7,618C813.9,618 817.2,618 820.4,618C823.6,618 826.9,618 830.1,618C833.3,618 836.6,618 839.8,618C843,618 846.3,618 849.5,618C852.7,618 855.9,618 859.2,618C862.4,618 865.6,618 868.9,618C872.1,618 875.3,618 878.6,618C881.8,618 885,618 888.3,618C891.5,618 894.7,618 898,618C901.2,618 904.4,618 907.7,618C910.9,618 914.1,618 917.4,618C920.6,618 925.4,618 927.1,618" fill="none" stroke="#ff0000" stroke-width="2.5" stroke-linejoin="round"/>
<polygon points="151.3,63.9 156.4,69.4 151.3,74.9 146.2,69.4"/>
<polygon points="161,63.9 166.1,69.4 161,74.9 155.9,69.4"/>
<polygon points="170.7,63.9 175.8,69.4 170.7,74.9 165.6,69.4"/>
<polygon points="180.4,63.9 185.5,69.4 180.4,74.9 175.3,69.4"/>
<polygon points="190.1,63.9 195.2,69.4 190.1,74.9 185,69.4"/>
<polygon points="199.8,63.9 204.9,69.4 199.8,74.9 194.7,69.4"/>
<polygon points="209.5,63.9 214.6,69.4 209.5,74.9 204.4,69.4"/>
<polygon points="219.2,63.9 224.3,69.4 219.2,74.9 214.1,69.4"/>
<polygon points="228.9,63.9 234,69.4 228.9,74.9 223.8,69.4"/>
<polygon points="238.6,63.9 243.7,69.4 238.6,74.9 233.5,69.4"/>
<polygon points="248.3,63.9 253.4,69.4 248.3,74.9 243.2,69.4"/>
<polygon points="258,63.9 263.1,69.4 258,74.9 252.9,69.4"/>
<polygon points="267.7,63.9 272.8,69.4 267.7,74.9 262.6,69.4"/>
<polygon points="277.4,63.9 282.5,69.4 277.4,74.9 272.3,69.4"/>
<polygon points="287.1,63.9 292.2,69.4 287.1,74.9 282,69.4"/>
<polygon points="296.8,63.9 301.9,69.4 296.8,74.9 291.7,69.4"/>
<polygon points="306.5,63.9 311.6,69.4 306.5,74.9 301.4,69.4"/>
<polygon points="316.1,63.9 321.2,69.4 316.1,74.9 311,69.4"/>
<polygon points="325.8,63.9 330.9,69.4 325.8,74.9 320.7,69.4"/>
<polygon points="335.5,63.9 340.6,69.4 335.5,74.9 330.4,69.4"/>
<polygon points="345.2,63.9 350.3,69.4 345.2,74.9 340.1,69.4"/>
<polygon points="354.9,64 360,69.5 354.9,75 349.8,69.5"/>
<polygon points="364.6,64.4 369.7,69.9 364.6,75.4 359.5,69.9"/>
<polygon points="374.3,65.7 379.4,71.2 374.3,76.7 369.2,71.2"/>
<polygon points="384,68.4 389.1,73.9 384,79.4 378.9,73.9"/>
<polygon points="393.7,71.3 398.8,76.8 393.7,82.3 388.6,76.8"/>
<polygon points="403.4,75.9 408.5,81.4 403.4,86.9 398.3,81.4"/>
<polygon points="413.1,82.7 418.2,88.2 413.1,93.7 408,88.2"/>
<polygon points="422.8,93.6 427.9,99.1 422.8,104.6 417.7,99.1"/>
<polygon points="432.5,113.5 437.6,119 432.5,124.5 427.4,119"/>
<polygon points="442.2,151.5 447.3,157 442.2,162.5 437.1,157"/>
<polygon points="451.9,209.5 457,215 451.9,220.5 446.8,215"/>
<polygon points="461.6,278 466.7,283.5 461.6,289 456.5,283.5"/>
<polygon points="471.3,346.1 476.4,351.6 471.3,357.1 466.2,351.6"/>
<polygon points="481,399.7 486.1,405.2 481,410.7 475.9,405.2"/>
<polygon points="490.7,435.3 495.8,440.8 490.7,446.3 485.6,440.8"/>
<polygon points="500.4,460 505.5,465.5 500.4,471 495.3,465.5"/>
<polygon points="510.1,478.4 515.2,483.9 510.1,489.4 505,483.9"/>
<polygon points="519.8,489.4 524.9,494.9 519.8,500.4 514.7,494.9"/>
<polygon points="529.5,496.6 534.6,502.1 529.5,507.6 524.4,502.1"/>
<polygon points="539.2,503.2 544.3,508.7 539.2,514.2 534.1,508.7"/>
<polygon points="548.9,510.2 554,515.7 548.9,521.2 543.8,515.7"/>
<polygon points="558.6,518.5 563.7,524 558.6,529.5 553.5,524"/>
<polygon points="568.3,526.5 573.4,532 568.3,537.5 563.2,532"/>
<polygon points="578,534 583.1,539.5 578,545 572.9,539.5"/>
<polygon points="587.7,541.3 592.8,546.8 587.7,552.3 582.6,546.8"/>
<polygon points="597.4,548.2 602.5,553.7 597.4,559.2 592.3,553.7"/>
<polygon points="607.1,553 612.2,558.5 607.1,564 602,558.5"/>
<polygon points="616.8,555 621.9,560.5 616.8,566 611.7,560.5"/>
<polygon points="626.5,556.8 631.6,562.3 626.5,567.8 621.4,562.3"/>
<polygon points="636.1,559.7 641.2,565.2 636.1,570.7 631,565.2"/>
<polygon points="645.8,562.8 650.9,568.3 645.8,573.8 640.7,568.3"/>
<polygon points="655.5,567.8 660.6,573.3 655.5,578.8 650.4,573.3"/>
<polygon points="665.2,574.8 670.3,580.3 665.2,585.8 660.1,580.3"/>
<polygon points="674.9,582.9 680,588.4 674.9,593.9 669.8,588.4"/>
<polygon points="684.6,592.3 689.7,597.8 684.6,603.3 679.5,597.8"/>
<polygon points="694.3,599.1 699.4,604.6 694.3,610.1 689.2,604.6"/>
<polygon points="704,605.4 709.1,610.9 704,616.4 698.9,610.9"/>
<polygon points="713.7,609.7 718.8,615.2 713.7,620.7 708.6,615.2"/>
<polygon points="723.4,611.9 728.5,617.4 723.4,622.9 718.3,617.4"/>
<polygon points="733.1,612.5 738.2,618 733.1,623.5 728,618"/>
<polygon points="742.8,612.5 747.9,618 742.8,623.5 737.7,618"/>
<polygon points="752.5,612.5 757.6,618 752.5,623.5 747.4,618"/>
<polygon points="762.2,612.5 767.3,618 762.2,623.5 757.1,618"/>
<polygon points="771.9,612.5 777,618 771.9,623.5 766.8,618"/>
<polygon points="781.6,612.5 786.7,618 781.6,623.5 776.5,618"/>
<polygon points="791.3,612.5 796.4,618 791.3,623.5 786.2,618"/>
<polygon points="801,612.5 806.1,618 801,623.5 795.9,618"/>
<polygon points="810.7,612.5 815.8,618 810.7,623.5 805.6,618"/>
<polygon points="820.4,612.5 825.5,618 820.4,623.5 815.3,618"/>
<polygon points="830.1,612.5 835.2,618 830.1,623.5 825,618"/>
<polygon points="839.8,612.5 844.9,618 839.8,623.5 834.7,618"/>
<polygon points="849.5,612.5 854.6,618 849.5,623.5 844.4,618"/>
<polygon points="859.2,612.5 864.3,618 859.2,623.5 854.1,618"/>
<polygon points="868.9,612.5 874,618 868.9,623.5 863.8,618"/>
<polygon points="878.6,612.5 883.7,618 878.6,623.5 873.5,618"/>
<polygon points="888.3,612.5 893.4,618 888.3,623.5 883.2,618"/>
<polygon points="898,612.5 903.1,618 898,623.5 892.9,618"/>
<polygon points="907.7,612.5 912.8,618 907.7,623.5 902.6,618"/>
<polygon points="917.4,612.5 922.5,618 917.4,623.5 912.3,618"/>
<polygon points="927.1,612.5 932.2,618 927.1,623.5 922,618"/>
</g>
<g fill="#800000" stroke="none">
<path d="M151.3,69.4C152.9,69.4 157.8,69.4 161,69.4C164.2,69.4 167.5,69.4 170.7,69.4C173.9,69.4 177.2,69.4 180.4,69.4C183.6,69.4 186.9,69.4 190.1,69.4C193.3,69.4 196.6,69.4 199.8,69.4C203,69.4 206.2,69.4 209.5,69.4C212.7,69.4 215.9,69.4 219.2,69.4C222.4,69.4 225.6,69.4 228.9,69.4C232.1,69.4 235.3,69.4 238.6,69.4C241.8,69.4 245,69.4 248.3,69.4C251.5,69.4 254.7,69.4 258,69.4C261.2,69.4 264.4,69.4 267.7,69.4C270.9,69.4 274.1,69.4 277.4,69.4C280.6,69.4 283.8,69.4 287.1,69.4C290.3,69.4 293.5,69.4 296.8,69.4C300,69.4 303.2,69.4 306.5,69.4C309.7,69.4 312.9,69.4 316.1,69.4C319.4,69.4 322.6,69.4 325.8,69.4C329.1,69.4 332.3,69.4 335.5,69.4C338.8,69.5 342,69.5 345.2,69.7C348.5,69.9 351.7,70.1 354.9,70.6C358.2,71.1 361.4,71.7 364.6,72.6C367.9,73.5 371.1,74.8 374.3,76.1C377.6,77.4 380.8,78.8 384,80.7C387.3,82.6 390.5,84.6 393.7,87.6C397,90.5 400.2,93.9 403.4,98.4C406.7,102.9 409.9,107.6 413.1,114.7C416.4,121.8 419.6,129.9 422.8,140.8C426,151.7 429.3,164.1 432.5,180.3C435.7,196.6 439,217.3 442.2,238.3C445.4,259.3 448.7,283.3 451.9,306.3C455.1,329.3 458.4,355.8 461.6,376.5C464.8,397.2 468.1,415.5 471.3,430.3C474.5,445.1 477.8,455.3 481,465.3C484.2,475.3 487.5,483.3 490.7,490.3C493.9,497.3 497.2,502.1 500.4,507.4C503.6,512.7 506.9,518.1 510.1,522.2C513.3,526.3 516.6,529.4 519.8,532.2C523,535 526.3,536.9 529.5,539.1C532.7,541.3 535.9,543.3 539.2,545.4C542.4,547.5 545.6,549.6 548.9,551.7C552.1,553.8 555.3,555.9 558.6,557.9C561.8,559.9 565,561.7 568.3,564C571.5,566.3 574.7,569.2 578,571.5C581.2,573.8 584.4,575.9 587.7,577.7C590.9,579.5 594.1,580.8 597.4,582.1C600.6,583.4 603.8,584.6 607.1,585.3C610.3,586 613.5,586.2 616.8,586.5C620,586.8 623.2,586.9 626.5,587.2C629.7,587.5 632.9,587.9 636.1,588.4C639.4,588.9 642.6,589.4 645.8,590.3C649.1,591.2 652.3,592.5 655.5,594C658.8,595.5 662,597.5 665.2,599.3C668.5,601.1 671.7,603.1 674.9,605C678.2,606.9 681.4,608.8 684.6,610.6C687.9,612.4 691.1,614.4 694.3,615.8C697.6,617.2 700.8,618.3 704,619.2C707.3,620.1 710.5,620.8 713.7,621.3C717,621.8 720.2,622.1 723.4,622.3C726.7,622.5 729.9,622.5 733.1,622.5C736.4,622.5 739.6,622.5 742.8,622.5C746,622.5 749.3,622.5 752.5,622.5C755.7,622.5 759,622.5 762.2,622.5C765.4,622.5 768.7,622.5 771.9,622.5C775.1,622.5 778.4,622.5 781.6,622.5C784.8,622.5 788.1,622.5 791.3,622.5C794.5,622.5 797.8,622.5 801,622.5C804.2,622.5 807.5,622.5 810.7,622.5C813.9,622.5 817.2,622.5 820.4,622.5C823.6,622.5 826.9,622.5 830.1,622.5C833.3,622.5 836.6,622.5 839.8,622.5C843,622.5 846.3,622.5 849.5,622.5C852.7,622.5 855.9,622.5 859.2,622.5C862.4,622.5 865.6,622.5 868.9,622.5C872.1,622.5 875.3,622.5 878.6,622.5C881.8,622.5 885,622.5 888.3,622.5C891.5,622.5 894.7,622.5 898,622.5C901.2,622.5 904.4,622.5 907.7,622.5C910.9,622.5 914.1,622.5 917.4,622.5C920.6,622.5 925.4,622.5 927.1,622.5" fill="none" stroke="#800000" stroke-width="2.0" stroke-linejoin="round"/>
<polygon points="145.3,69.4 154.3,64.2 154.3,74.6"/>
<polygon points="155,69.4 164,64.2 164,74.6"/>
<polygon points="164.7,69.4 173.7,64.2 173.7,74.6"/>
<polygon points="174.4,69.4 183.4,64.2 183.4,74.6"/>
<polygon points="184.1,69.4 193.1,64.2 193.1,74.6"/>
<polygon points="193.8,69.4 202.8,64.2 202.8,74.6"/>
<polygon points="203.5,69.4 212.5,64.2 212.5,74.6"/>
<polygon points="213.2,69.4 222.2,64.2 222.2,74.6"/>
<polygon points="222.9,69.4 231.9,64.2 231.9,74.6"/>
<polygon points="232.6,69.4 241.6,64.2 241.6,74.6"/>
<polygon points="242.3,69.4 251.3,64.2 251.3,74.6"/>
<polygon points="252,69.4 261,64.2 261,74.6"/>
<polygon points="261.7,69.4 270.7,64.2 270.7,74.6"/>
<polygon points="271.4,69.4 280.4,64.2 280.4,74.6"/>
<polygon points="281.1,69.4 290.1,64.2 290.1,74.6"/>
<polygon points="290.8,69.4 299.8,64.2 299.8,74.6"/>
<polygon points="300.5,69.4 309.5,64.2 309.5,74.6"/>
<polygon points="310.1,69.4 319.1,64.2 319.1,74.6"/>
<polygon points="319.8,69.4 328.8,64.2 328.8,74.6"/>
<polygon points="329.5,69.4 338.5,64.2 338.5,74.6"/>
<polygon points="339.2,69.7 348.2,64.5 348.2,74.9"/>
<polygon points="348.9,70.6 357.9,65.4 357.9,75.8"/>
<polygon points="358.6,72.6 367.6,67.4 367.6,77.8"/>
<polygon points="368.3,76.1 377.3,70.9 377.3,81.3"/>
<polygon points="378,80.7 387,75.5 387,85.9"/>
<polygon points="387.7,87.6 396.7,82.4 396.7,92.8"/>
<polygon points="397.4,98.4 406.4,93.2 406.4,103.6"/>
<polygon points="407.1,114.7 416.1,109.5 416.1,119.9"/>
<polygon points="416.8,140.8 425.8,135.6 425.8,146"/>
<polygon points="426.5,180.3 435.5,175.1 435.5,185.5"/>
<polygon points="436.2,238.3 445.2,233.1 445.2,243.5"/>
<polygon points="445.9,306.3 454.9,301.1 454.9,311.5"/>
<polygon points="455.6,376.5 464.6,371.3 464.6,381.7"/>
<polygon points="465.3,430.3 474.3,425.1 474.3,435.5"/>
<polygon points="475,465.3 484,460.1 484,470.5"/>
<polygon points="484.7,490.3 493.7,485.1 493.7,495.5"/>
<polygon points="494.4,507.4 503.4,502.2 503.4,512.6"/>
<polygon points="504.1,522.2 513.1,517 513.1,527.4"/>
<polygon points="513.8,532.2 522.8,527 522.8,537.4"/>
<polygon points="523.5,539.1 532.5,533.9 532.5,544.3"/>
<polygon points="533.2,545.4 542.2,540.2 542.2,550.6"/>
<polygon points="542.9,551.7 551.9,546.5 551.9,556.9"/>
<polygon points="552.6,557.9 561.6,552.7 561.6,563.1"/>
<polygon points="562.3,564 571.3,558.8 571.3,569.2"/>
<polygon points="572,571.5 581,566.3 581,576.7"/>
<polygon points="581.7,577.7 590.7,572.5 590.7,582.9"/>
<polygon points="591.4,582.1 600.4,576.9 600.4,587.3"/>
<polygon points="601.1,585.3 610.1,580.1 610.1,590.5"/>
<polygon points="610.8,586.5 619.8,581.3 619.8,591.7"/>
<polygon points="620.5,587.2 629.5,582 629.5,592.4"/>
<polygon points="630.1,588.4 639.1,583.2 639.1,593.6"/>
<polygon points="639.8,590.3 648.8,585.1 648.8,595.5"/>
<polygon points="649.5,594 658.5,588.8 658.5,599.2"/>
<polygon points="659.2,599.3 668.2,594.1 668.2,604.5"/>
<polygon points="668.9,605 677.9,599.8 677.9,610.2"/>
<polygon points="678.6,610.6 687.6,605.4 687.6,615.8"/>
<polygon points="688.3,615.8 697.3,610.6 697.3,621"/>
<polygon points="698,619.2 707,614 707,624.4"/>
<polygon points="707.7,621.3 716.7,616.1 716.7,626.5"/>
<polygon points="717.4,622.3 726.4,617.1 726.4,627.5"/>
<polygon points="727.1,622.5 736.1,617.3 736.1,627.7"/>
<polygon points="736.8,622.5 745.8,617.3 745.8,627.7"/>
<polygon points="746.5,622.5 755.5,617.3 755.5,627.7"/>
<polygon points="756.2,622.5 765.2,617.3 765.2,627.7"/>
<polygon points="765.9,622.5 774.9,617.3 774.9,627.7"/>
<polygon points="775.6,622.5 784.6,617.3 784.6,627.7"/>
<polygon points="785.3,622.5 794.3,617.3 794.3,627.7"/>
<polygon points="795,622.5 804,617.3 804,627.7"/>
<polygon points="804.7,622.5 813.7,617.3 813.7,627.7"/>
<polygon points="814.4,622.5 823.4,617.3 823.4,627.7"/>
<polygon points="824.1,622.5 833.1,617.3 833.1,627.7"/>
<polygon points="833.8,622.5 842.8,617.3 842.8,627.7"/>
<polygon points="843.5,622.5 852.5,617.3 852.5,627.7"/>
<polygon points="853.2,622.5 862.2,617.3 862.2,627.7"/>
<polygon points="862.9,622.5 871.9,617.3 871.9,627.7"/>
<polygon points="872.6,622.5 881.6,617.3 881.6,627.7"/>
<polygon points="882.3,622.5 891.3,617.3 891.3,627.7"/>
<polygon points="892,622.5 901,617.3 901,627.7"/>
<polygon points="901.7,622.5 910.7,617.3 910.7,627.7"/>
<polygon points="911.4,622.5 920.4,617.3 920.4,627.7"/>
<polygon points="921.1,622.5 930.1,617.3 930.1,627.7"/>
</g>
<g fill="#ff8000" stroke="none">
<path d="M151.3,69.4C152.9,69.4 157.8,69.4 161,69.4C164.2,69.4 167.5,69.4 170.7,69.4C173.9,69.4 177.2,69.4 180.4,69.4C183.6,69.4 186.9,69.4 190.1,69.4C193.3,69.4 196.6,69.4 199.8,69.4C203,69.4 206.2,69.4 209.5,69.4C212.7,69.4 215.9,69.4 219.2,69.4C222.4,69.4 225.6,69.4 228.9,69.4C232.1,69.4 235.3,69.4 238.6,69.4C241.8,69.4 245,69.4 248.3,69.4C251.5,69.4 254.7,69.4 258,69.4C261.2,69.4 264.4,69.4 267.7,69.4C270.9,69.4 274.1,69.4 277.4,69.4C280.6,69.4 283.8,69.4 287.1,69.4C290.3,69.4 293.5,69.4 296.8,69.4C300,69.4 303.2,69.4 306.5,69.4C309.7,69.4 312.9,69.4 316.1,69.4C319.4,69.4 322.6,69.4 325.8,69.5C329.1,69.6 332.3,69.7 335.5,69.9C338.8,70.2 342,70.4 345.2,71C348.5,71.6 351.7,72.1 354.9,73.3C358.2,74.5 361.4,76.1 364.6,78.2C367.9,80.3 371.1,82.9 374.3,85.8C377.6,88.7 380.8,90.9 384,95.8C387.3,100.7 390.5,107.1 393.7,115.3C397,123.5 400.2,131.7 403.4,145C406.7,158.3 409.9,173.7 413.1,195.3C416.4,216.9 419.6,242.3 422.8,274.7C426,307.1 429.3,348.8 432.5,389.5C435.7,430.2 439,484.9 442.2,519.1C445.4,553.3 448.7,582.1 451.9,594.7C455.1,594.7 458.4,594.6 461.6,594.6C464.8,594.6 468.1,594.6 471.3,594.5C474.5,594.5 477.8,594.5 481,594.5C484.2,594.4 487.5,594.4 490.7,594.4C493.9,594.4 497.2,594.3 500.4,594.3C503.6,594.3 506.9,594.3 510.1,594.2C513.3,594.2 516.6,594.2 519.8,594.2C523,594.2 526.3,594.1 529.5,594.1C532.7,594.1 535.9,594.1 539.2,594C542.4,594 545.6,594 548.9,594C552.1,593.9 555.3,593.9 558.6,593.9C561.8,593.9 565,593.8 568.3,593.8C571.5,593.8 574.7,593.8 578,593.8C581.2,593.7 584.4,593.7 587.7,593.7C590.9,593.7 594.1,593.6 597.4,593.6C600.6,593.6 603.8,593.6 607.1,593.5C610.3,593.5 613.5,593.5 616.8,593.5C620,593.4 623.2,593.4 626.5,593.4C629.7,593.4 632.9,593.3 636.1,593.3C639.4,593.3 642.6,593.3 645.8,593.3C649.1,593.2 652.3,593.2 655.5,593.2C658.8,593.2 662,593.1 665.2,593.1C668.5,593.1 671.7,593.1 674.9,593C678.2,593 681.4,593 684.6,593C687.9,592.9 691.1,592.9 694.3,592.9C697.6,592.9 700.8,592.9 704,592.8C707.3,592.8 710.5,592.8 713.7,592.8C717,592.7 720.2,592.7 723.4,592.7C726.7,592.7 729.9,592.6 733.1,592.6C736.4,592.6 739.6,592.6 742.8,592.5C746,592.5 749.3,592.5 752.5,592.5C755.7,592.5 759,592.4 762.2,592.4C765.4,592.4 768.7,592.4 771.9,592.3C775.1,592.3 778.4,592.3 781.6,592.3C784.8,592.2 788.1,592.2 791.3,592.2C794.5,592.2 797.8,592.1 801,592.1C804.2,592.1 807.5,592.1 810.7,592.1C813.9,592 817.2,592 820.4,592C823.6,592 826.9,591.9 830.1,591.9C833.3,591.9 836.6,591.9 839.8,591.8C843,591.8 846.3,591.8 849.5,591.8C852.7,591.7 855.9,591.7 859.2,591.7C862.4,591.7 865.6,591.6 868.9,591.6C872.1,591.6 875.3,591.6 878.6,591.6C881.8,591.5 885,591.5 888.3,591.5C891.5,591.5 894.7,591.4 898,591.4C901.2,591.4 904.4,591.4 907.7,591.3C910.9,591.3 914.1,591.3 917.4,591.3C920.6,591.2 925.4,591.2 927.1,591.2" fill="none" stroke="#ff8000" stroke-width="2.0" stroke-linejoin="round"/>
<polygon points="157.3,69.4 148.3,64.2 148.3,74.6"/>
<polygon points="167,69.4 158,64.2 158,74.6"/>
<polygon points="176.7,69.4 167.7,64.2 167.7,74.6"/>
<polygon points="186.4,69.4 177.4,64.2 177.4,74.6"/>
<polygon points="196.1,69.4 187.1,64.2 187.1,74.6"/>
<polygon points="205.8,69.4 196.8,64.2 196.8,74.6"/>
<polygon points="215.5,69.4 206.5,64.2 206.5,74.6"/>
<polygon points="225.2,69.4 216.2,64.2 216.2,74.6"/>
<polygon points="234.9,69.4 225.9,64.2 225.9,74.6"/>
<polygon points="244.6,69.4 235.6,64.2 235.6,74.6"/>
<polygon points="254.3,69.4 245.3,64.2 245.3,74.6"/>
<polygon points="264,69.4 255,64.2 255,74.6"/>
<polygon points="273.7,69.4 264.7,64.2 264.7,74.6"/>
<polygon points="283.4,69.4 274.4,64.2 274.4,74.6"/>
<polygon points="293.1,69.4 284.1,64.2 284.1,74.6"/>
<polygon points="302.8,69.4 293.8,64.2 293.8,74.6"/>
<polygon points="312.5,69.4 303.5,64.2 303.5,74.6"/>
<polygon points="322.1,69.4 313.1,64.2 313.1,74.6"/>
<polygon points="331.8,69.5 322.8,64.3 322.8,74.7"/>
<polygon points="341.5,69.9 332.5,64.7 332.5,75.1"/>
<polygon points="351.2,71 342.2,65.8 342.2,76.2"/>
<polygon points="360.9,73.3 351.9,68.1 351.9,78.5"/>
<polygon points="370.6,78.2 361.6,73 361.6,83.4"/>
<polygon points="380.3,85.8 371.3,80.6 371.3,91"/>
<polygon points="390,95.8 381,90.6 381,101"/>
<polygon points="399.7,115.3 390.7,110.1 390.7,120.5"/>
<polygon points="409.4,145 400.4,139.8 400.4,150.2"/>
<polygon points="419.1,195.3 410.1,190.1 410.1,200.5"/>
<polygon points="428.8,274.7 419.8,269.5 419.8,279.9"/>
<polygon points="438.5,389.5 429.5,384.3 429.5,394.7"/>
<polygon points="448.2,519.1 439.2,513.9 439.2,524.3"/>
<polygon points="457.9,594.7 448.9,589.5 448.9,599.9"/>
<polygon points="467.6,594.6 458.6,589.4 458.6,599.8"/>
<polygon points="477.3,594.5 468.3,589.3 468.3,599.7"/>
<polygon points="487,594.5 478,589.3 478,599.7"/>
<polygon points="496.7,594.4 487.7,589.2 487.7,599.6"/>
<polygon points="506.4,594.3 497.4,589.1 497.4,599.5"/>
<polygon points="516.1,594.2 507.1,589 507.1,599.4"/>
<polygon points="525.8,594.2 516.8,589 516.8,599.4"/>
<polygon points="535.5,594.1 526.5,588.9 526.5,599.3"/>
<polygon points="545.2,594 536.2,588.8 536.2,599.2"/>
<polygon points="554.9,594 545.9,588.8 545.9,599.2"/>
<polygon points="564.6,593.9 555.6,588.7 555.6,599.1"/>
<polygon points="574.3,593.8 565.3,588.6 565.3,599"/>
<polygon points="584,593.8 575,588.5 575,599"/>
<polygon points="593.7,593.7 584.7,588.5 584.7,598.9"/>
<polygon points="603.4,593.6 594.4,588.4 594.4,598.8"/>
<polygon points="613.1,593.5 604.1,588.3 604.1,598.7"/>
<polygon points="622.8,593.5 613.8,588.3 613.8,598.7"/>
<polygon points="632.5,593.4 623.5,588.2 623.5,598.6"/>
<polygon points="642.1,593.3 633.1,588.1 633.1,598.5"/>
<polygon points="651.8,593.3 642.8,588.1 642.8,598.5"/>
<polygon points="661.5,593.2 652.5,588 652.5,598.4"/>
<polygon points="671.2,593.1 662.2,587.9 662.2,598.3"/>
<polygon points="680.9,593 671.9,587.8 671.9,598.2"/>
<polygon points="690.6,593 681.6,587.8 681.6,598.2"/>
<polygon points="700.3,592.9 691.3,587.7 691.3,598.1"/>
<polygon points="710,592.8 701,587.6 701,598"/>
<polygon points="719.7,592.8 710.7,587.6 710.7,598"/>
<polygon points="729.4,592.7 720.4,587.5 720.4,597.9"/>
<polygon points="739.1,592.6 730.1,587.4 730.1,597.8"/>
<polygon points="748.8,592.5 739.8,587.3 739.8,597.7"/>
<polygon points="758.5,592.5 749.5,587.3 749.5,597.7"/>
<polygon points="768.2,592.4 759.2,587.2 759.2,597.6"/>
<polygon points="777.9,592.3 768.9,587.1 768.9,597.5"/>
<polygon points="787.6,592.3 778.6,587.1 778.6,597.5"/>
<polygon points="797.3,592.2 788.3,587 788.3,597.4"/>
<polygon points="807,592.1 798,586.9 798,597.3"/>
<polygon points="816.7,592.1 807.7,586.9 807.7,597.3"/>
<polygon points="826.4,592 817.4,586.8 817.4,597.2"/>
<polygon points="836.1,591.9 827.1,586.7 827.1,597.1"/>
<polygon points="845.8,591.8 836.8,586.6 836.8,597"/>
<polygon points="855.5,591.8 846.5,586.6 846.5,597"/>
<polygon points="865.2,591.7 856.2,586.5 856.2,596.9"/>
<polygon points="874.9,591.6 865.9,586.4 865.9,596.8"/>
<polygon points="884.6,591.6 875.6,586.4 875.6,596.8"/>
<polygon points="894.3,591.5 885.3,586.3 885.3,596.7"/>
<polygon points="904,591.4 895,586.2 895,596.6"/>
<polygon points="913.7,591.3 904.7,586.1 904.7,596.5"/>
<polygon points="923.4,591.3 914.4,586.1 914.4,596.5"/>
<polygon points="933.1,591.2 924.1,586 924.1,596.4"/>
</g>
<g fill="#808000" stroke="none">
<path d="M151.3,69.4C152.9,69.4 157.8,69.4 161,69.4C164.2,69.4 167.5,69.4 170.7,69.4C173.9,69.4 177.2,69.4 180.4,69.4C183.6,69.4 186.9,69.4 190.1,69.4C193.3,69.4 196.6,69.4 199.8,69.4C203,69.4 206.2,69.4 209.5,69.4C212.7,69.4 215.9,69.4 219.2,69.4C222.4,69.4 225.6,69.4 228.9,69.4C232.1,69.4 235.3,69.4 238.6,69.4C241.8,69.4 245,69.4 248.3,69.4C251.5,69.4 254.7,69.4 258,69.4C261.2,69.4 264.4,69.4 267.7,69.4C270.9,69.4 274.1,69.4 277.4,69.4C280.6,69.4 283.8,69.4 287.1,69.4C290.3,69.4 293.5,69.4 296.8,69.4C300,69.4 303.2,69.4 306.5,69.4C309.7,69.4 312.9,69.4 316.1,69.4C319.4,69.4 322.6,69.4 325.8,69.4C329.1,69.4 332.3,69.4 335.5,69.4C338.8,69.4 342,69.4 345.2,69.4C348.5,69.4 351.7,69.4 354.9,69.4C358.2,69.4 361.4,69.4 364.6,69.4C367.9,69.4 371.1,69.4 374.3,69.4C377.6,69.4 380.8,69.4 384,69.4C387.3,69.4 390.5,69.4 393.7,69.4C397,69.4 400.2,69.4 403.4,69.4C406.7,69.4 409.9,69.4 413.1,69.4C416.4,69.4 419.6,69.4 422.8,69.4C426,69.4 429.3,69.4 432.5,69.4C435.7,69.4 439,69.4 442.2,69.4C445.4,69.4 448.7,69.4 451.9,69.4C455.1,69.4 458.4,69.4 461.6,69.4C464.8,69.4 468.1,69.4 471.3,69.4C474.5,69.4 477.8,69.4 481,69.4C484.2,69.4 487.5,69.4 490.7,69.4C493.9,69.4 497.2,69.5 500.4,69.6C503.6,69.7 506.9,69.8 510.1,70C513.3,70.2 516.6,70.5 519.8,70.8C523,71.1 526.3,71.5 529.5,71.9C532.7,72.3 535.9,72.7 539.2,73.3C542.4,73.9 545.6,74.5 548.9,75.3C552.1,76.1 555.3,77 558.6,78C561.8,79 565,79.9 568.3,81.4C571.5,82.9 574.7,84.4 578,87.2C581.2,90 584.4,93.2 587.7,98.2C590.9,103.2 594.1,108.6 597.4,117.1C600.6,125.6 603.8,135.6 607.1,149.1C610.3,162.6 613.5,178.8 616.8,198C620,217.2 623.2,240.2 626.5,264.1C629.7,288 632.9,315.5 636.1,341.4C639.4,367.3 642.6,395.4 645.8,419.4C649.1,443.3 652.3,466.4 655.5,485.1C658.8,503.9 662,519.8 665.2,531.9C668.5,544 671.7,550.4 674.9,557.5C678.2,564.6 681.4,568.8 684.6,574.5C687.9,580.2 691.1,586.6 694.3,591.5C697.6,596.4 700.8,600.5 704,604C707.3,607.5 710.5,610.5 713.7,612.4C717,614.3 720.2,614.9 723.4,615.4C726.7,615.6 729.9,615.6 733.1,615.6C736.4,615.6 739.6,615.6 742.8,615.6C746,615.6 749.3,615.6 752.5,615.6C755.7,615.6 759,615.6 762.2,615.6C765.4,615.6 768.7,615.6 771.9,615.6C775.1,615.6 778.4,615.6 781.6,615.6C784.8,615.6 788.1,615.6 791.3,615.6C794.5,615.6 797.8,615.6 801,615.6C804.2,615.6 807.5,615.6 810.7,615.6C813.9,615.6 817.2,615.6 820.4,615.6C823.6,615.6 826.9,615.6 830.1,615.6C833.3,615.6 836.6,615.6 839.8,615.6C843,615.6 846.3,615.6 849.5,615.6C852.7,615.6 855.9,615.6 859.2,615.6C862.4,615.6 865.6,615.6 868.9,615.6C872.1,615.6 875.3,615.6 878.6,615.6C881.8,615.6 885,615.6 888.3,615.6C891.5,615.6 894.7,615.6 898,615.6C901.2,615.6 904.4,615.6 907.7,615.6C910.9,615.6 914.1,615.6 917.4,615.6C920.6,615.6 925.4,615.6 927.1,615.6" fill="none" stroke="#808000" stroke-width="1.9" stroke-linejoin="round"/>
<polygon points="151.3,64.6 155.5,67 155.5,71.8 151.3,74.2 147.1,71.8 147.1,67"/>
<polygon points="161,64.6 165.2,67 165.2,71.8 161,74.2 156.8,71.8 156.8,67"/>
<polygon points="170.7,64.6 174.9,67 174.9,71.8 170.7,74.2 166.5,71.8 166.5,67"/>
<polygon points="180.4,64.6 184.5,67 184.5,71.8 180.4,74.2 176.2,71.8 176.2,67"/>
<polygon points="190.1,64.6 194.2,67 194.2,71.8 190.1,74.2 185.9,71.8 185.9,67"/>
<polygon points="199.8,64.6 203.9,67 203.9,71.8 199.8,74.2 195.6,71.8 195.6,67"/>
<polygon points="209.5,64.6 213.6,67 213.6,71.8 209.5,74.2 205.3,71.8 205.3,67"/>
<polygon points="219.2,64.6 223.3,67 223.3,71.8 219.2,74.2 215,71.8 215,67"/>
<polygon points="228.9,64.6 233,67 233,71.8 228.9,74.2 224.7,71.8 224.7,67"/>
<polygon points="238.6,64.6 242.7,67 242.7,71.8 238.6,74.2 234.4,71.8 234.4,67"/>
<polygon points="248.3,64.6 252.4,67 252.4,71.8 248.3,74.2 244.1,71.8 244.1,67"/>
<polygon points="258,64.6 262.1,67 262.1,71.8 258,74.2 253.8,71.8 253.8,67"/>
<polygon points="267.7,64.6 271.8,67 271.8,71.8 267.7,74.2 263.5,71.8 263.5,67"/>
<polygon points="277.4,64.6 281.5,67 281.5,71.8 277.4,74.2 273.2,71.8 273.2,67"/>
<polygon points="287.1,64.6 291.2,67 291.2,71.8 287.1,74.2 282.9,71.8 282.9,67"/>
<polygon points="296.8,64.6 300.9,67 300.9,71.8 296.8,74.2 292.6,71.8 292.6,67"/>
<polygon points="306.5,64.6 310.6,67 310.6,71.8 306.5,74.2 302.3,71.8 302.3,67"/>
<polygon points="316.1,64.6 320.3,67 320.3,71.8 316.1,74.2 312,71.8 312,67"/>
<polygon points="325.8,64.6 330,67 330,71.8 325.8,74.2 321.7,71.8 321.7,67"/>
<polygon points="335.5,64.6 339.7,67 339.7,71.8 335.5,74.2 331.4,71.8 331.4,67"/>
<polygon points="345.2,64.6 349.4,67 349.4,71.8 345.2,74.2 341.1,71.8 341.1,67"/>
<polygon points="354.9,64.6 359.1,67 359.1,71.8 354.9,74.2 350.8,71.8 350.8,67"/>
<polygon points="364.6,64.6 368.8,67 368.8,71.8 364.6,74.2 360.5,71.8 360.5,67"/>
<polygon points="374.3,64.6 378.5,67 378.5,71.8 374.3,74.2 370.2,71.8 370.2,67"/>
<polygon points="384,64.6 388.2,67 388.2,71.8 384,74.2 379.9,71.8 379.9,67"/>
<polygon points="393.7,64.6 397.9,67 397.9,71.8 393.7,74.2 389.6,71.8 389.6,67"/>
<polygon points="403.4,64.6 407.6,67 407.6,71.8 403.4,74.2 399.3,71.8 399.3,67"/>
<polygon points="413.1,64.6 417.3,67 417.3,71.8 413.1,74.2 409,71.8 409,67"/>
<polygon points="422.8,64.6 427,67 427,71.8 422.8,74.2 418.7,71.8 418.7,67"/>
<polygon points="432.5,64.6 436.7,67 436.7,71.8 432.5,74.2 428.4,71.8 428.4,67"/>
<polygon points="442.2,64.6 446.4,67 446.4,71.8 442.2,74.2 438.1,71.8 438.1,67"/>
<polygon points="451.9,64.6 456.1,67 456.1,71.8 451.9,74.2 447.8,71.8 447.8,67"/>
<polygon points="461.6,64.6 465.8,67 465.8,71.8 461.6,74.2 457.4,71.8 457.4,67"/>
<polygon points="471.3,64.6 475.5,67 475.5,71.8 471.3,74.2 467.1,71.8 467.1,67"/>
<polygon points="481,64.6 485.2,67 485.2,71.8 481,74.2 476.8,71.8 476.8,67"/>
<polygon points="490.7,64.6 494.9,67 494.9,71.8 490.7,74.2 486.5,71.8 486.5,67"/>
<polygon points="500.4,64.8 504.5,67.2 504.5,72 500.4,74.4 496.2,72 496.2,67.2"/>
<polygon points="510.1,65.2 514.2,67.6 514.2,72.4 510.1,74.8 505.9,72.4 505.9,67.6"/>
<polygon points="519.8,66 523.9,68.4 523.9,73.2 519.8,75.6 515.6,73.2 515.6,68.4"/>
<polygon points="529.5,67.1 533.6,69.5 533.6,74.3 529.5,76.7 525.3,74.3 525.3,69.5"/>
<polygon points="539.2,68.5 543.3,70.9 543.3,75.7 539.2,78.1 535,75.7 535,70.9"/>
<polygon points="548.9,70.5 553,72.9 553,77.7 548.9,80.1 544.7,77.7 544.7,72.9"/>
<polygon points="558.6,73.2 562.7,75.6 562.7,80.4 558.6,82.8 554.4,80.4 554.4,75.6"/>
<polygon points="568.3,76.6 572.4,79 572.4,83.8 568.3,86.2 564.1,83.8 564.1,79"/>
<polygon points="578,82.4 582.1,84.8 582.1,89.6 578,92 573.8,89.6 573.8,84.8"/>
<polygon points="587.7,93.4 591.8,95.8 591.8,100.6 587.7,103 583.5,100.6 583.5,95.8"/>
<polygon points="597.4,112.3 601.5,114.7 601.5,119.5 597.4,121.9 593.2,119.5 593.2,114.7"/>
<polygon points="607.1,144.3 611.2,146.7 611.2,151.5 607.1,153.9 602.9,151.5 602.9,146.7"/>
<polygon points="616.8,193.2 620.9,195.6 620.9,200.4 616.8,202.8 612.6,200.4 612.6,195.6"/>
<polygon points="626.5,259.3 630.6,261.7 630.6,266.5 626.5,268.9 622.3,266.5 622.3,261.7"/>
<polygon points="636.1,336.6 640.3,339 640.3,343.8 636.1,346.2 632,343.8 632,339"/>
<polygon points="645.8,414.6 650,417 650,421.8 645.8,424.2 641.7,421.8 641.7,417"/>
<polygon points="655.5,480.3 659.7,482.7 659.7,487.5 655.5,489.9 651.4,487.5 651.4,482.7"/>
<polygon points="665.2,527.1 669.4,529.5 669.4,534.3 665.2,536.7 661.1,534.3 661.1,529.5"/>
<polygon points="674.9,552.7 679.1,555.1 679.1,559.9 674.9,562.3 670.8,559.9 670.8,555.1"/>
<polygon points="684.6,569.7 688.8,572.1 688.8,576.9 684.6,579.3 680.5,576.9 680.5,572.1"/>
<polygon points="694.3,586.7 698.5,589.1 698.5,593.9 694.3,596.3 690.2,593.9 690.2,589.1"/>
<polygon points="704,599.2 708.2,601.6 708.2,606.4 704,608.8 699.9,606.4 699.9,601.6"/>
<polygon points="713.7,607.6 717.9,610 717.9,614.8 713.7,617.2 709.6,614.8 709.6,610"/>
<polygon points="723.4,610.6 727.6,613 727.6,617.8 723.4,620.2 719.3,617.8 719.3,613"/>
<polygon points="733.1,610.8 737.3,613.2 737.3,618 733.1,620.4 729,618 729,613.2"/>
<polygon points="742.8,610.8 747,613.2 747,618 742.8,620.4 738.7,618 738.7,613.2"/>
<polygon points="752.5,610.8 756.7,613.2 756.7,618 752.5,620.4 748.4,618 748.4,613.2"/>
<polygon points="762.2,610.8 766.4,613.2 766.4,618 762.2,620.4 758.1,618 758.1,613.2"/>
<polygon points="771.9,610.8 776.1,613.2 776.1,618 771.9,620.4 767.8,618 767.8,613.2"/>
<polygon points="781.6,610.8 785.8,613.2 785.8,618 781.6,620.4 777.4,618 777.4,613.2"/>
<polygon points="791.3,610.8 795.5,613.2 795.5,618 791.3,620.4 787.1,618 787.1,613.2"/>
<polygon points="801,610.8 805.2,613.2 805.2,618 801,620.4 796.8,618 796.8,613.2"/>
<polygon points="810.7,610.8 814.9,613.2 814.9,618 810.7,620.4 806.5,618 806.5,613.2"/>
<polygon points="820.4,610.8 824.5,613.2 824.5,618 820.4,620.4 816.2,618 816.2,613.2"/>
<polygon points="830.1,610.8 834.2,613.2 834.2,618 830.1,620.4 825.9,618 825.9,613.2"/>
<polygon points="839.8,610.8 843.9,613.2 843.9,618 839.8,620.4 835.6,618 835.6,613.2"/>
<polygon points="849.5,610.8 853.6,613.2 853.6,618 849.5,620.4 845.3,618 845.3,613.2"/>
<polygon points="859.2,610.8 863.3,613.2 863.3,618 859.2,620.4 855,618 855,613.2"/>
<polygon points="868.9,610.8 873,613.2 873,618 868.9,620.4 864.7,618 864.7,613.2"/>
<polygon points="878.6,610.8 882.7,613.2 882.7,618 878.6,620.4 874.4,618 874.4,613.2"/>
<polygon points="888.3,610.8 892.4,613.2 892.4,618 888.3,620.4 884.1,618 884.1,613.2"/>
<polygon points="898,610.8 902.1,613.2 902.1,618 898,620.4 893.8,618 893.8,613.2"/>
<polygon points="907.7,610.8 911.8,613.2 911.8,618 907.7,620.4 903.5,618 903.5,613.2"/>
<polygon points="917.4,610.8 921.5,613.2 921.5,618 917.4,620.4 913.2,618 913.2,613.2"/>
<polygon points="927.1,610.8 931.2,613.2 931.2,618 927.1,620.4 922.9,618 922.9,613.2"/>
</g>
</g>
<g font-size="23.5" fill="#000">
<text x="216" y="681.8" text-anchor="middle">100</text>
<text x="345.3" y="681.8" text-anchor="middle">200</text>
<text x="474.6" y="681.8" text-anchor="middle">300</text>
<text x="603.9" y="681.8" text-anchor="middle">400</text>
<text x="733.1" y="681.8" text-anchor="middle">500</text>
<text x="862.4" y="681.8" text-anchor="middle">600</text>
<text x="991.7" y="681.8" text-anchor="middle">700</text>
<text x="125.3" y="644" text-anchor="end">0</text>
<text x="125.3" y="530.5" text-anchor="end">20</text>
<text x="125.3" y="417.1" text-anchor="end">40</text>
<text x="125.3" y="303.6" text-anchor="end">60</text>
<text x="125.3" y="190.2" text-anchor="end">80</text>
<text x="125.3" y="76.7" text-anchor="end">100</text>
</g>
<text class="t" font-size="30" x="469.9" y="732.3" textLength="148.5" lengthAdjust="spacingAndGlyphs">Tempreture</text>
<g id="degc" fill="#000" role="img" aria-label="(&#8451;)"><path d="M636.3,711.5 Q619.4,725.2 636.3,738.8 Q624.4,725.2 636.3,711.5Z"/><path d="M664,711.5 Q680.9,725.2 664,738.8 Q675.9,725.2 664,711.5Z"/><circle cx="640.7" cy="714.9" r="1.6" fill="none" stroke="#000" stroke-width="1.4"/><path d="M659.3,718.4 C657.5,715.4 655.2,714 652.3,714 C647.2,714 644,717.6 644,723 C644,728.4 647.2,731.9 652.3,731.9 C655.4,731.9 657.9,730.4 659.6,727.2" fill="none" stroke="#000" stroke-width="1.85"/></g>
<text class="t" font-size="30" transform="translate(39.1,473.5) rotate(-90)">Weight remaining (%)</text>
<g fill="#808000"><line x1="688" y1="115" x2="748.4" y2="115" stroke="#808000" stroke-width="1.9"/><polygon points="718.2,110.2 722.4,112.6 722.4,117.4 718.2,119.8 714,117.4 714,112.6"/></g>
<text class="t" font-size="26.5" x="755.2" y="124">PHDA</text>
<g fill="#000000"><line x1="688" y1="148.7" x2="748.4" y2="148.7" stroke="#000000" stroke-width="1.8"/><circle cx="718.2" cy="148.7" r="4.5"/></g>
<text class="t" font-size="26.5" x="755.2" y="157.7">PLH5.0</text>
<g fill="#ff0000"><line x1="688" y1="182.4" x2="748.4" y2="182.4" stroke="#ff0000" stroke-width="2.5"/><polygon points="718.2,176.9 723.3,182.4 718.2,187.9 713.1,182.4"/></g>
<text class="t" font-size="26.5" x="755.2" y="191.4">PLH6.1</text>
<g fill="#ff00ff"><line x1="688" y1="216.2" x2="748.4" y2="216.2" stroke="#ff00ff" stroke-width="2.2"/><polygon points="718.2,210.2 723.4,219.2 713,219.2"/></g>
<text class="t" font-size="26.5" x="755.2" y="225.2">PLH6.3</text>
<g fill="#0000ff"><line x1="688" y1="249.9" x2="748.4" y2="249.9" stroke="#0000ff" stroke-width="2.1"/><polygon points="714.2,245.9 722.2,245.9 722.2,253.9 714.2,253.9"/></g>
<text class="t" font-size="26.5" x="755.2" y="258.9">PLH7.0</text>
<g fill="#800000"><line x1="688" y1="283.6" x2="748.4" y2="283.6" stroke="#800000" stroke-width="2.0"/><polygon points="712.2,283.6 721.2,278.4 721.2,288.8"/></g>
<text class="t" font-size="26.5" x="755.2" y="292.6">PLH7.8</text>
<g fill="#8000ff"><line x1="688" y1="317.3" x2="748.4" y2="317.3" stroke="#8000ff" stroke-width="2.1"/><polygon points="718.2,323.3 723.4,314.3 713,314.3"/></g>
<text class="t" font-size="26.5" x="755.2" y="326.3">PLH9.3</text>
<g fill="#ff8000"><line x1="688" y1="351" x2="748.4" y2="351" stroke="#ff8000" stroke-width="2.0"/><polygon points="724.2,351 715.2,345.8 715.2,356.2"/></g>
<text class="t" font-size="26.5" x="755.2" y="360">PLA</text>
</svg></body></html>
